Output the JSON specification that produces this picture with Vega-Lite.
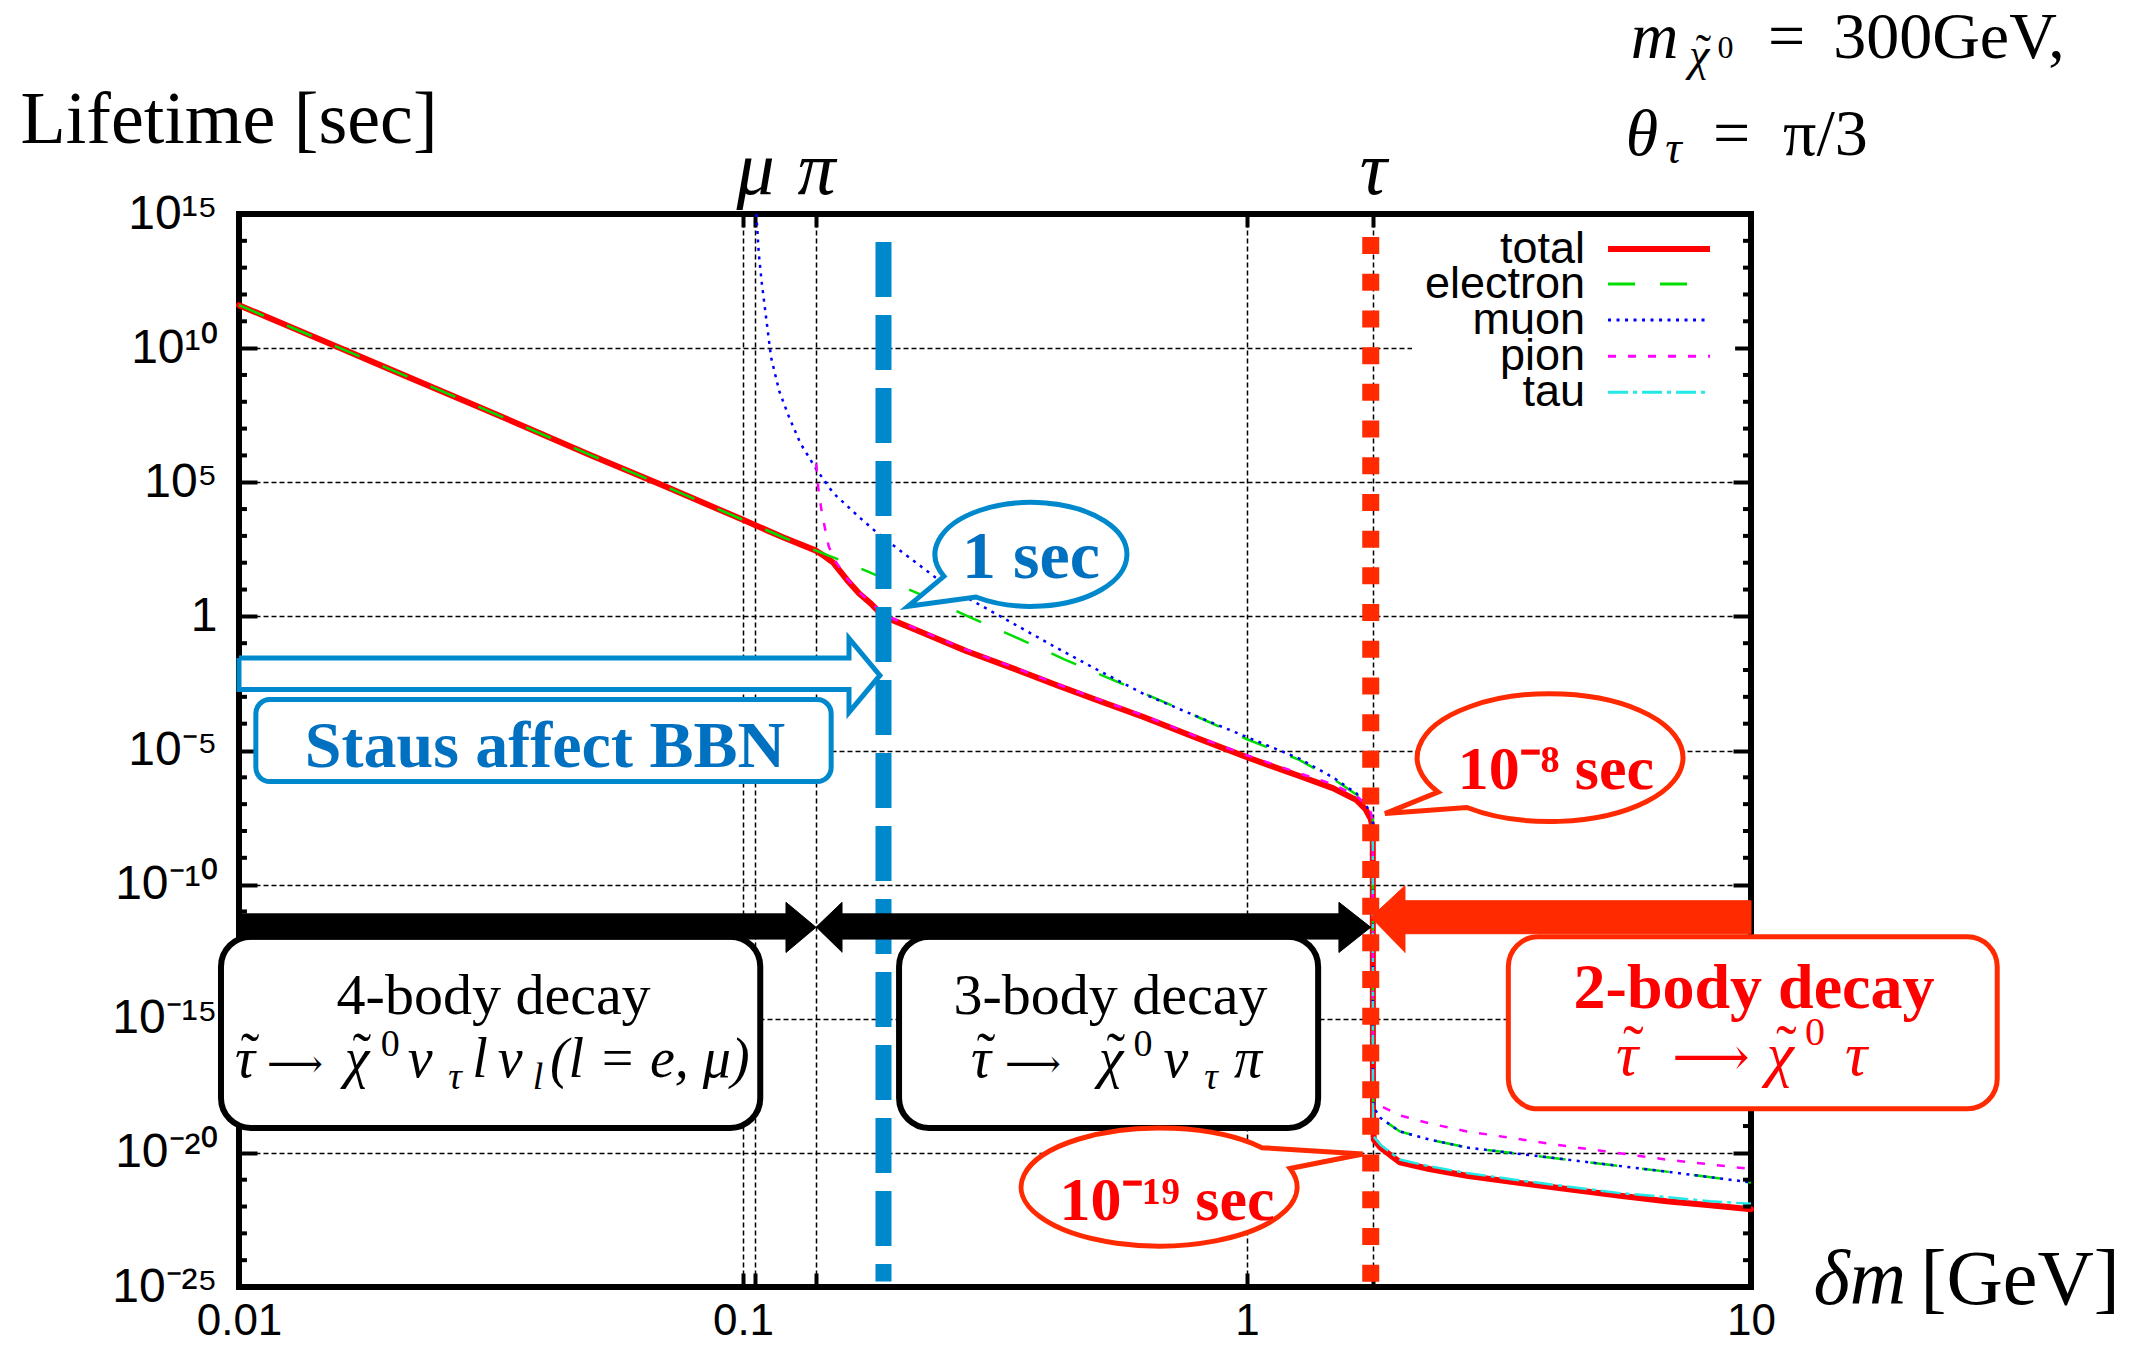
{
  "$schema": "https://vega.github.io/schema/vega-lite/v6.json",
  "description": "Stau lifetime versus mass difference, with partial lifetimes per decay channel and annotated decay regimes.",
  "width": 1512,
  "height": 1073,
  "autosize": {"type": "none"},
  "padding": {"left": 239, "top": 214, "right": 389, "bottom": 58},
  "background": "#ffffff",
  "config": {
    "view": {"stroke": "#000000", "strokeWidth": 6},
    "axis": {
      "domain": false,
      "tickColor": "#000000",
      "tickWidth": 4,
      "labelColor": "#000000",
      "labelFont": "Liberation Sans",
      "labelFontSize": 48,
      "gridColor": "#000000",
      "gridDash": [5, 3],
      "gridWidth": 1.5,
      "gridOpacity": 1,
      "labelOverlap": false,
      "labelFlush": false,
      "labelBound": false
    },
    "text": {"font": "Liberation Serif"}
  },
  "resolve": {"axis": {"x": "independent", "y": "independent"}},
  "datasets": {
    "minor": [
      {"y": 1e14}, {"y": 1e13}, {"y": 1e12}, {"y": 1e11},
      {"y": 1e9}, {"y": 1e8}, {"y": 1e7}, {"y": 1e6},
      {"y": 1e4}, {"y": 1e3}, {"y": 100}, {"y": 10},
      {"y": 0.1}, {"y": 0.01}, {"y": 1e-3}, {"y": 1e-4},
      {"y": 1e-6}, {"y": 1e-7}, {"y": 1e-8}, {"y": 1e-9},
      {"y": 1e-11}, {"y": 1e-12}, {"y": 1e-13}, {"y": 1e-14},
      {"y": 1e-16}, {"y": 1e-17}, {"y": 1e-18}, {"y": 1e-19},
      {"y": 1e-21}, {"y": 1e-22}, {"y": 1e-23}, {"y": 1e-24}
    ],
    "keys": [
      {"s": "total", "label": "total", "y": 4.94e13},
      {"s": "electron", "label": "electron", "y": 2.44e12},
      {"s": "muon", "label": "muon", "y": 1.11e11},
      {"s": "pion", "label": "pion", "y": 5.02e9},
      {"s": "tau", "label": "tau", "y": 2.28e8}
    ]
  },
  "layer": [
    {
      "data": {"values": [
        {"x": 0.01, "y": 3.98e11}, {"x": 0.015, "y": 1.58e10}, {"x": 0.02, "y": 1.58e9}, {"x": 0.03, "y": 6.31e7},
        {"x": 0.05, "y": 1.0e6}, {"x": 0.07, "y": 7.08e4}, {"x": 0.1, "y": 3.98e3}, {"x": 0.12, "y": 8.91e2},
        {"x": 0.1396, "y": 2.82e2}, {"x": 0.145, "y": 1.78e2}, {"x": 0.151, "y": 1.0e2}, {"x": 0.161, "y": 22.4},
        {"x": 0.17, "y": 7.08}, {"x": 0.18, "y": 2.82}, {"x": 0.19, "y": 1.0}, {"x": 0.22, "y": 0.316},
        {"x": 0.278, "y": 5.01e-2}, {"x": 0.35, "y": 1.0e-2}, {"x": 0.417, "y": 2.82e-3}, {"x": 0.5, "y": 7.94e-4},
        {"x": 0.625, "y": 1.74e-4}, {"x": 0.8, "y": 2.82e-5}, {"x": 1.0, "y": 5.62e-6}, {"x": 1.27, "y": 1.12e-6},
        {"x": 1.48, "y": 3.98e-7}, {"x": 1.65, "y": 1.41e-7}, {"x": 1.72, "y": 6.31e-8}, {"x": 1.76, "y": 2.82e-8},
        {"x": 1.7765, "y": 1.26e-8}, {"x": 1.7769, "y": 1e-12}, {"x": 1.7775, "y": 1e-17}, {"x": 1.779, "y": 1e-19},
        {"x": 1.785, "y": 3.16e-20}, {"x": 1.84, "y": 1.58e-20}, {"x": 2.01, "y": 4.47e-21}, {"x": 2.3, "y": 2.51e-21},
        {"x": 2.73, "y": 1.41e-21}, {"x": 3.4, "y": 7.94e-22}, {"x": 4.31, "y": 4.47e-22}, {"x": 5.5, "y": 2.51e-22},
        {"x": 6.8, "y": 1.58e-22}, {"x": 8.3, "y": 1.12e-22}, {"x": 10, "y": 7.94e-23}
      ]},
      "mark": {"type": "line", "color": "#ff0000", "strokeWidth": 6, "strokeJoin": "round", "strokeCap": "round"},
      "encoding": {
        "x": {
          "field": "x", "type": "quantitative", "scale": {"type": "log", "domain": [0.01, 10]},
          "axis": {
            "orient": "bottom",
            "values": [0.01, 0.1, 0.1057, 0.1396, 1, 1.777, 10],
            "labelExpr": "datum.value == 0.01 ? '0.01' : datum.value == 0.1 ? '0.1' : datum.value == 1 ? '1' : datum.value == 10 ? '10' : ''",
            "grid": true,
            "tickSize": -14,
            "labelPadding": 61,
            "labelFontSize": 44,
            "labelBaseline": "alphabetic",
            "title": null
          }
        },
        "y": {
          "field": "y", "type": "quantitative", "scale": {"type": "log", "domain": [1e-25, 1e15]},
          "axis": {
            "orient": "left",
            "values": [1e15, 1e10, 1e5, 1, 1e-5, 1e-10, 1e-15, 1e-20, 1e-25],
            "labelExpr": "datum.value > 1e14 ? '10¹⁵' : datum.value > 1e9 ? '10¹⁰' : datum.value > 1e4 ? '10⁵' : datum.value > 0.1 ? '1' : datum.value > 1e-6 ? '10⁻⁵' : datum.value > 1e-11 ? '10⁻¹⁰' : datum.value > 1e-16 ? '10⁻¹⁵' : datum.value > 1e-21 ? '10⁻²⁰' : '10⁻²⁵'",
            "grid": true,
            "tickSize": -18,
            "labelPadding": 40,
            "title": "Lifetime [sec]",
            "titleAngle": 0,
            "titleAlign": "left",
            "titleBaseline": "alphabetic",
            "titleX": -219,
            "titleY": -72,
            "titleFont": "Liberation Serif",
            "titleFontSize": 74,
            "titleFontWeight": "normal",
            "titleColor": "#000000"
          }
        }
      }
    },
    {
      "data": {"values": [
        {"s": "electron", "x": 0.01, "y": 3.98e11}, {"s": "electron", "x": 0.015, "y": 1.58e10}, {"s": "electron", "x": 0.02, "y": 1.58e9},
        {"s": "electron", "x": 0.03, "y": 6.31e7}, {"s": "electron", "x": 0.05, "y": 1.0e6}, {"s": "electron", "x": 0.07, "y": 7.08e4},
        {"s": "electron", "x": 0.1, "y": 3.98e3}, {"s": "electron", "x": 0.12, "y": 8.91e2}, {"s": "electron", "x": 0.1396, "y": 2.82e2},
        {"s": "electron", "x": 0.151, "y": 1.58e2}, {"s": "electron", "x": 0.178, "y": 44.7}, {"s": "electron", "x": 0.226, "y": 6.31},
        {"s": "electron", "x": 0.278, "y": 1.05}, {"s": "electron", "x": 0.34, "y": 0.2}, {"s": "electron", "x": 0.434, "y": 2.51e-2},
        {"s": "electron", "x": 0.555, "y": 3.55e-3}, {"s": "electron", "x": 0.767, "y": 2.51e-4}, {"s": "electron", "x": 1.0, "y": 2.63e-5},
        {"s": "electron", "x": 1.27, "y": 4.47e-6}, {"s": "electron", "x": 1.48, "y": 8.91e-7}, {"s": "electron", "x": 1.65, "y": 2.24e-7},
        {"s": "electron", "x": 1.73, "y": 7.08e-8}, {"s": "electron", "x": 1.7765, "y": 2.82e-8}, {"s": "electron", "x": 1.7769, "y": 1e-12},
        {"s": "electron", "x": 1.7775, "y": 3.16e-17}, {"s": "electron", "x": 1.779, "y": 1e-18}, {"s": "electron", "x": 1.79, "y": 4.47e-19},
        {"s": "electron", "x": 1.84, "y": 2.0e-19}, {"s": "electron", "x": 2.01, "y": 6.31e-20}, {"s": "electron", "x": 2.3, "y": 3.16e-20},
        {"s": "electron", "x": 2.73, "y": 1.58e-20}, {"s": "electron", "x": 4.31, "y": 5.62e-21}, {"s": "electron", "x": 6.8, "y": 2.0e-21},
        {"s": "electron", "x": 10, "y": 7.94e-22},

        {"s": "muon", "x": 0.1063, "y": 1e15}, {"s": "muon", "x": 0.1075, "y": 3.16e13}, {"s": "muon", "x": 0.109, "y": 2.51e12},
        {"s": "muon", "x": 0.1137, "y": 4.47e9}, {"s": "muon", "x": 0.118, "y": 2.51e8}, {"s": "muon", "x": 0.1233, "y": 2.82e7},
        {"s": "muon", "x": 0.13, "y": 2.82e6}, {"s": "muon", "x": 0.1396, "y": 3.16e5}, {"s": "muon", "x": 0.151, "y": 3.98e4},
        {"s": "muon", "x": 0.17, "y": 5.01e3}, {"s": "muon", "x": 0.185, "y": 1.26e3}, {"s": "muon", "x": 0.197, "y": 5.01e2},
        {"s": "muon", "x": 0.241, "y": 28.2}, {"s": "muon", "x": 0.278, "y": 5.01}, {"s": "muon", "x": 0.35, "y": 0.447},
        {"s": "muon", "x": 0.417, "y": 7.08e-2}, {"s": "muon", "x": 0.5, "y": 1.12e-2}, {"s": "muon", "x": 0.625, "y": 1.26e-3},
        {"s": "muon", "x": 0.8, "y": 1.78e-4}, {"s": "muon", "x": 1.0, "y": 3.16e-5}, {"s": "muon", "x": 1.27, "y": 5.01e-6},
        {"s": "muon", "x": 1.48, "y": 1.0e-6}, {"s": "muon", "x": 1.65, "y": 2.51e-7}, {"s": "muon", "x": 1.73, "y": 7.94e-8},
        {"s": "muon", "x": 1.7765, "y": 3.16e-8}, {"s": "muon", "x": 1.7769, "y": 1e-12}, {"s": "muon", "x": 1.7775, "y": 3.16e-17},
        {"s": "muon", "x": 1.779, "y": 1e-18}, {"s": "muon", "x": 1.79, "y": 4.47e-19}, {"s": "muon", "x": 1.84, "y": 2.0e-19},
        {"s": "muon", "x": 2.01, "y": 6.31e-20}, {"s": "muon", "x": 2.3, "y": 3.16e-20}, {"s": "muon", "x": 2.73, "y": 1.58e-20},
        {"s": "muon", "x": 4.31, "y": 5.62e-21}, {"s": "muon", "x": 6.8, "y": 2.0e-21}, {"s": "muon", "x": 10, "y": 7.94e-22},

        {"s": "pion", "x": 0.1397, "y": 5.01e5}, {"s": "pion", "x": 0.141, "y": 6.31e4}, {"s": "pion", "x": 0.143, "y": 1e4},
        {"s": "pion", "x": 0.145, "y": 2.51e3}, {"s": "pion", "x": 0.148, "y": 3.98e2}, {"s": "pion", "x": 0.152, "y": 1.26e2},
        {"s": "pion", "x": 0.161, "y": 25.1}, {"s": "pion", "x": 0.17, "y": 7.94}, {"s": "pion", "x": 0.18, "y": 3.16},
        {"s": "pion", "x": 0.19, "y": 1.17}, {"s": "pion", "x": 0.22, "y": 0.355}, {"s": "pion", "x": 0.278, "y": 5.62e-2},
        {"s": "pion", "x": 0.35, "y": 1.12e-2}, {"s": "pion", "x": 0.417, "y": 3.16e-3}, {"s": "pion", "x": 0.5, "y": 8.91e-4},
        {"s": "pion", "x": 0.625, "y": 2.0e-4}, {"s": "pion", "x": 0.8, "y": 3.16e-5}, {"s": "pion", "x": 1.0, "y": 6.61e-6},
        {"s": "pion", "x": 1.27, "y": 1.41e-6}, {"s": "pion", "x": 1.48, "y": 5.62e-7}, {"s": "pion", "x": 1.65, "y": 2.0e-7},
        {"s": "pion", "x": 1.72, "y": 1.0e-7}, {"s": "pion", "x": 1.76, "y": 5.01e-8}, {"s": "pion", "x": 1.7765, "y": 2.24e-8},
        {"s": "pion", "x": 1.7769, "y": 1e-12}, {"s": "pion", "x": 1.7775, "y": 3.16e-17}, {"s": "pion", "x": 1.779, "y": 2.51e-18},
        {"s": "pion", "x": 1.79, "y": 1.12e-18}, {"s": "pion", "x": 1.84, "y": 5.62e-19}, {"s": "pion", "x": 2.01, "y": 2.51e-19},
        {"s": "pion", "x": 2.3, "y": 1.26e-19}, {"s": "pion", "x": 2.73, "y": 6.31e-20}, {"s": "pion", "x": 4.31, "y": 1.78e-20},
        {"s": "pion", "x": 6.8, "y": 5.62e-21}, {"s": "pion", "x": 10, "y": 2.51e-21},

        {"s": "tau", "x": 1.777, "y": 1e-8}, {"s": "tau", "x": 1.7775, "y": 3.16e-17}, {"s": "tau", "x": 1.779, "y": 1.26e-19},
        {"s": "tau", "x": 1.785, "y": 3.98e-20}, {"s": "tau", "x": 1.84, "y": 2.0e-20}, {"s": "tau", "x": 2.01, "y": 5.62e-21},
        {"s": "tau", "x": 2.3, "y": 3.16e-21}, {"s": "tau", "x": 2.73, "y": 1.78e-21}, {"s": "tau", "x": 3.4, "y": 1.0e-21},
        {"s": "tau", "x": 4.31, "y": 5.62e-22}, {"s": "tau", "x": 5.5, "y": 3.16e-22}, {"s": "tau", "x": 6.8, "y": 2.24e-22},
        {"s": "tau", "x": 8.3, "y": 1.58e-22}, {"s": "tau", "x": 10, "y": 1.26e-22}
      ]},
      "mark": {"type": "line", "strokeWidth": 2.5, "strokeCap": "butt"},
      "encoding": {
        "x": {
          "field": "x", "type": "quantitative", "scale": {"type": "log", "domain": [0.01, 10]},
          "axis": {
            "orient": "top",
            "values": [0.1, 0.1057, 0.1396, 1, 1.777],
            "labelExpr": "datum.value == 0.1057 ? 'μ' : datum.value == 0.1396 ? 'π' : datum.value == 1.777 ? 'τ' : ''",
            "grid": false,
            "tickSize": -13,
            "labelPadding": 34,
            "labelBaseline": "alphabetic",
            "labelFont": "Liberation Serif",
            "labelFontStyle": "italic",
            "labelFontSize": 76,
            "title": null
          }
        },
        "y": {
          "field": "y", "type": "quantitative", "scale": {"type": "log", "domain": [1e-25, 1e15]},
          "axis": {
            "orient": "right",
            "values": [1e15, 1e10, 1e5, 1, 1e-5, 1e-10, 1e-15, 1e-20, 1e-25],
            "labels": false,
            "grid": false,
            "tickSize": -18,
            "title": null
          }
        },
        "color": {
          "field": "s", "type": "nominal",
          "scale": {"domain": ["total", "electron", "muon", "pion", "tau"], "range": ["#ff0000", "#00dd00", "#0000ff", "#ff00ff", "#22e8e8"]},
          "legend": null
        },
        "strokeDash": {
          "field": "s", "type": "nominal",
          "scale": {"domain": ["total", "electron", "muon", "pion", "tau"], "range": [[1, 0], [27, 25], [3, 5.5], [8, 12], [20, 5, 4, 5]]},
          "legend": null
        }
      }
    },
    {
      "data": {"name": "minor"},
      "mark": {"type": "rule", "color": "#000000", "strokeWidth": 4},
      "encoding": {
        "x": {"datum": 0.01, "type": "quantitative", "scale": {"type": "log", "domain": [0.01, 10]}, "axis": null},
        "x2": {"datum": 0.01037},
        "y": {"field": "y", "type": "quantitative", "scale": {"type": "log", "domain": [1e-25, 1e15]}, "axis": null}
      }
    },
    {
      "data": {"name": "minor"},
      "mark": {"type": "rule", "color": "#000000", "strokeWidth": 4},
      "encoding": {
        "x": {"datum": 9.641, "type": "quantitative", "scale": {"type": "log", "domain": [0.01, 10]}, "axis": null},
        "x2": {"datum": 10},
        "y": {"field": "y", "type": "quantitative", "scale": {"type": "log", "domain": [1e-25, 1e15]}, "axis": null}
      }
    },
    {
      "data": {"values": [{"x": 0.19, "y": 9.1e13, "y2": 1.6e-25}]},
      "mark": {"type": "rule", "color": "#0088cc", "strokeWidth": 16, "strokeDash": [55, 18], "strokeCap": "butt"},
      "encoding": {
        "x": {"field": "x", "type": "quantitative", "scale": {"type": "log", "domain": [0.01, 10]}, "axis": null},
        "y": {"field": "y", "type": "quantitative", "scale": {"type": "log", "domain": [1e-25, 1e15]}, "axis": null},
        "y2": {"field": "y2"}
      }
    },
    {
      "data": {"values": [{"x": 1.76, "y": 1.38e14, "y2": 1e-25}]},
      "mark": {"type": "rule", "color": "#ff2a00", "strokeWidth": 17, "strokeDash": [17, 19.7], "strokeCap": "butt"},
      "encoding": {
        "x": {"field": "x", "type": "quantitative", "scale": {"type": "log", "domain": [0.01, 10]}, "axis": null},
        "y": {"field": "y", "type": "quantitative", "scale": {"type": "log", "domain": [1e-25, 1e15]}, "axis": null},
        "y2": {"field": "y2"}
      }
    },
    {
      "data": {"values": [{"x": 2.125, "x2": 9.3, "y": 3.9e14, "y2": 4.9e7}]},
      "mark": {"type": "rect", "fill": "#ffffff", "strokeWidth": 0},
      "encoding": {
        "x": {"field": "x", "type": "quantitative", "scale": {"type": "log", "domain": [0.01, 10]}, "axis": null},
        "x2": {"field": "x2"},
        "y": {"field": "y", "type": "quantitative", "scale": {"type": "log", "domain": [1e-25, 1e15]}, "axis": null},
        "y2": {"field": "y2"}
      }
    },
    {
      "data": {"name": "keys"},
      "mark": {"type": "text", "font": "Liberation Sans", "fontSize": 45, "align": "right", "baseline": "middle", "color": "#000000"},
      "encoding": {
        "x": {"datum": 4.685, "type": "quantitative", "scale": {"type": "log", "domain": [0.01, 10]}, "axis": null},
        "y": {"field": "y", "type": "quantitative", "scale": {"type": "log", "domain": [1e-25, 1e15]}, "axis": null},
        "text": {"field": "label"}
      }
    },
    {
      "data": {"name": "keys"},
      "mark": {"type": "rule", "strokeCap": "butt"},
      "encoding": {
        "x": {"datum": 5.204, "type": "quantitative", "scale": {"type": "log", "domain": [0.01, 10]}, "axis": null},
        "x2": {"datum": 8.293},
        "y": {"field": "y", "type": "quantitative", "scale": {"type": "log", "domain": [1e-25, 1e15]}, "axis": null},
        "color": {
          "field": "s", "type": "nominal",
          "scale": {"domain": ["total", "electron", "muon", "pion", "tau"], "range": ["#ff0000", "#00dd00", "#0000ff", "#ff00ff", "#22e8e8"]},
          "legend": null
        },
        "strokeDash": {
          "field": "s", "type": "nominal",
          "scale": {"domain": ["total", "electron", "muon", "pion", "tau"], "range": [[1, 0], [27, 25], [3, 5.5], [8, 12], [20, 5, 4, 5]]},
          "legend": null
        },
        "strokeWidth": {"condition": {"test": "datum.s === 'total'", "value": 6}, "value": 3}
      }
    },
    {
      "data": {"values": [{"x": 0.0108, "x2": 0.1496, "y": 7.94e-4, "y2": 6.97e-7}]},
      "mark": {"type": "rect", "fill": "#ffffff", "stroke": "#0088cc", "strokeWidth": 5, "cornerRadius": 14},
      "encoding": {
        "x": {"field": "x", "type": "quantitative", "scale": {"type": "log", "domain": [0.01, 10]}, "axis": null},
        "x2": {"field": "x2"},
        "y": {"field": "y", "type": "quantitative", "scale": {"type": "log", "domain": [1e-25, 1e15]}, "axis": null},
        "y2": {"field": "y2"}
      }
    },
    {
      "data": {"values": [
        {"x": 0.00921, "x2": 0.1082, "y": 1.15e-12, "y2": 8.51e-20},
        {"x": 0.204, "x2": 1.384, "y": 1.15e-12, "y2": 8.51e-20}
      ]},
      "mark": {"type": "rect", "fill": "#ffffff", "stroke": "#000000", "strokeWidth": 6, "cornerRadius": 30},
      "encoding": {
        "x": {"field": "x", "type": "quantitative", "scale": {"type": "log", "domain": [0.01, 10]}, "axis": null},
        "x2": {"field": "x2"},
        "y": {"field": "y", "type": "quantitative", "scale": {"type": "log", "domain": [1e-25, 1e15]}, "axis": null},
        "y2": {"field": "y2"}
      }
    },
    {
      "data": {"values": [{"x": 3.3, "x2": 30.8, "y": 1.15e-12, "y2": 4.37e-19}]},
      "mark": {"type": "rect", "fill": "#ffffff", "stroke": "#ff2a00", "strokeWidth": 5, "cornerRadius": 30},
      "encoding": {
        "x": {"field": "x", "type": "quantitative", "scale": {"type": "log", "domain": [0.01, 10]}, "axis": null},
        "x2": {"field": "x2"},
        "y": {"field": "y", "type": "quantitative", "scale": {"type": "log", "domain": [1e-25, 1e15]}, "axis": null},
        "y2": {"field": "y2"}
      }
    },
    {
      "data": {"values": [
        {"o": 1, "x": 0.01, "y": 2.82e-2}, {"o": 2, "x": 0.1623, "y": 2.82e-2}, {"o": 3, "x": 0.1623, "y": 0.151},
        {"o": 4, "x": 0.1869, "y": 6.3e-3}, {"o": 5, "x": 0.1623, "y": 2.62e-4}, {"o": 6, "x": 0.1623, "y": 1.89e-3},
        {"o": 7, "x": 0.01, "y": 1.89e-3}, {"o": 8, "x": 0.01, "y": 2.82e-2}
      ]},
      "mark": {"type": "line", "fill": "#ffffff", "stroke": "#0088cc", "strokeWidth": 5, "strokeJoin": "miter"},
      "encoding": {
        "x": {"field": "x", "type": "quantitative", "scale": {"type": "log", "domain": [0.01, 10]}, "axis": null},
        "y": {"field": "y", "type": "quantitative", "scale": {"type": "log", "domain": [1e-25, 1e15]}, "axis": null},
        "order": {"field": "o", "type": "quantitative"}
      }
    },
    {
      "data": {"values": [
        {"id": "a", "o": 1, "x": 0.01, "y": 8.13e-12}, {"id": "a", "o": 2, "x": 0.1217, "y": 8.13e-12},
        {"id": "a", "o": 3, "x": 0.1217, "y": 2.19e-11}, {"id": "a", "o": 4, "x": 0.1396, "y": 2.57e-12},
        {"id": "a", "o": 5, "x": 0.1217, "y": 2.95e-13}, {"id": "a", "o": 6, "x": 0.1217, "y": 9.33e-13},
        {"id": "a", "o": 7, "x": 0.01, "y": 9.33e-13},
        {"id": "b", "o": 1, "x": 0.1396, "y": 2.57e-12}, {"id": "b", "o": 2, "x": 0.1572, "y": 2.19e-11},
        {"id": "b", "o": 3, "x": 0.1572, "y": 8.13e-12}, {"id": "b", "o": 4, "x": 1.522, "y": 8.13e-12},
        {"id": "b", "o": 5, "x": 1.522, "y": 2.19e-11}, {"id": "b", "o": 6, "x": 1.76, "y": 2.57e-12},
        {"id": "b", "o": 7, "x": 1.522, "y": 2.95e-13}, {"id": "b", "o": 8, "x": 1.522, "y": 9.33e-13},
        {"id": "b", "o": 9, "x": 0.1572, "y": 9.33e-13}, {"id": "b", "o": 10, "x": 0.1572, "y": 2.95e-13}
      ]},
      "mark": {"type": "line", "fill": "#000000", "stroke": "#000000", "strokeWidth": 1},
      "encoding": {
        "x": {"field": "x", "type": "quantitative", "scale": {"type": "log", "domain": [0.01, 10]}, "axis": null},
        "y": {"field": "y", "type": "quantitative", "scale": {"type": "log", "domain": [1e-25, 1e15]}, "axis": null},
        "detail": {"field": "id"},
        "order": {"field": "o", "type": "quantitative"}
      }
    },
    {
      "data": {"values": [
        {"o": 1, "x": 1.76, "y": 5.89e-12}, {"o": 2, "x": 2.058, "y": 9.12e-11}, {"o": 3, "x": 2.058, "y": 2.51e-11},
        {"o": 4, "x": 10, "y": 2.51e-11}, {"o": 5, "x": 10, "y": 1.48e-12}, {"o": 6, "x": 2.058, "y": 1.48e-12},
        {"o": 7, "x": 2.058, "y": 2.88e-13}
      ]},
      "mark": {"type": "line", "fill": "#ff2a00", "stroke": "#ff2a00", "strokeWidth": 1},
      "encoding": {
        "x": {"field": "x", "type": "quantitative", "scale": {"type": "log", "domain": [0.01, 10]}, "axis": null},
        "y": {"field": "y", "type": "quantitative", "scale": {"type": "log", "domain": [1e-25, 1e15]}, "axis": null},
        "order": {"field": "o", "type": "quantitative"}
      }
    },
    {
      "data": {"values": [{"x": 0.3727, "y": 205.6}]},
      "mark": {"type": "point", "shape": "M-0.669,0.169 A0.738,0.4 0 1,1 -0.423,0.328 L-0.946,0.4 Z", "size": 67600, "filled": true, "fill": "#ffffff", "stroke": "#0088cc", "strokeWidth": 5, "opacity": 1},
      "encoding": {
        "x": {"field": "x", "type": "quantitative", "scale": {"type": "log", "domain": [0.01, 10]}, "axis": null},
        "y": {"field": "y", "type": "quantitative", "scale": {"type": "log", "domain": [1e-25, 1e15]}, "axis": null}
      }
    },
    {
      "data": {"values": [{"x": 3.99, "y": 5.48e-6}]},
      "mark": {"type": "point", "shape": "M-0.658,0.203 A0.782,0.376 0 1,1 -0.488,0.294 L-0.97,0.33 Z", "size": 115600, "filled": true, "fill": "#ffffff", "stroke": "#ff2a00", "strokeWidth": 5, "opacity": 1},
      "encoding": {
        "x": {"field": "x", "type": "quantitative", "scale": {"type": "log", "domain": [0.01, 10]}, "axis": null},
        "y": {"field": "y", "type": "quantitative", "scale": {"type": "log", "domain": [1e-25, 1e15]}, "axis": null}
      }
    },
    {
      "data": {"values": [{"x": 0.669, "y": 5.37e-22}]},
      "mark": {"type": "point", "shape": "M0.624,-0.088 A0.657,0.281 0 1,1 0.49,-0.187 L0.971,-0.157 Z", "size": 176400, "filled": true, "fill": "#ffffff", "stroke": "#ff2a00", "strokeWidth": 5, "opacity": 1},
      "encoding": {
        "x": {"field": "x", "type": "quantitative", "scale": {"type": "log", "domain": [0.01, 10]}, "axis": null},
        "y": {"field": "y", "type": "quantitative", "scale": {"type": "log", "domain": [1e-25, 1e15]}, "axis": null}
      }
    },
    {
      "data": {"values": [{"x": 0.3727, "y": 26.2, "t": "1 sec"}]},
      "mark": {"type": "text", "fontSize": 68, "fontWeight": "bold", "color": "#0070c0", "align": "center", "baseline": "alphabetic"},
      "encoding": {
        "x": {"field": "x", "type": "quantitative", "scale": {"type": "log", "domain": [0.01, 10]}, "axis": null},
        "y": {"field": "y", "type": "quantitative", "scale": {"type": "log", "domain": [1e-25, 1e15]}, "axis": null},
        "text": {"field": "t"}
      }
    },
    {
      "data": {"values": [{"x": 0.04046, "y": 2.4e-6, "t": "Staus affect BBN"}]},
      "mark": {"type": "text", "fontSize": 66, "fontWeight": "bold", "color": "#0070c0", "align": "center", "baseline": "alphabetic"},
      "encoding": {
        "x": {"field": "x", "type": "quantitative", "scale": {"type": "log", "domain": [0.01, 10]}, "axis": null},
        "y": {"field": "y", "type": "quantitative", "scale": {"type": "log", "domain": [1e-25, 1e15]}, "axis": null},
        "text": {"field": "t"}
      }
    },
    {
      "data": {"values": [
        {"x": 4.1, "y": 3.82e-7, "t": "10\u207b\u2078 sec"},
        {"x": 0.694, "y": 3.16e-23, "t": "10\u207b\u00b9\u2079 sec"}
      ]},
      "mark": {"type": "text", "fontSize": 62, "fontWeight": "bold", "color": "#ff0000", "align": "center", "baseline": "alphabetic"},
      "encoding": {
        "x": {"field": "x", "type": "quantitative", "scale": {"type": "log", "domain": [0.01, 10]}, "axis": null},
        "y": {"field": "y", "type": "quantitative", "scale": {"type": "log", "domain": [1e-25, 1e15]}, "axis": null},
        "text": {"field": "t"}
      }
    },
    {
      "data": {"values": [
        {"x": 0.032, "y": 1.55e-15, "t": "4-body decay"},
        {"x": 0.536, "y": 1.55e-15, "t": "3-body decay"}
      ]},
      "mark": {"type": "text", "fontSize": 58, "color": "#000000", "align": "center", "baseline": "alphabetic"},
      "encoding": {
        "x": {"field": "x", "type": "quantitative", "scale": {"type": "log", "domain": [0.01, 10]}, "axis": null},
        "y": {"field": "y", "type": "quantitative", "scale": {"type": "log", "domain": [1e-25, 1e15]}, "axis": null},
        "text": {"field": "t"}
      }
    },
    {
      "data": {"values": [{"x": 10.14, "y": 2.57e-15, "t": "2-body decay"}]},
      "mark": {"type": "text", "fontSize": 64, "fontWeight": "bold", "color": "#ff0000", "align": "center", "baseline": "alphabetic"},
      "encoding": {
        "x": {"field": "x", "type": "quantitative", "scale": {"type": "log", "domain": [0.01, 10]}, "axis": null},
        "y": {"field": "y", "type": "quantitative", "scale": {"type": "log", "domain": [1e-25, 1e15]}, "axis": null},
        "text": {"field": "t"}
      }
    },
    {
      "data": {"values": [
        {"x": 0.01028, "y": 6.46e-18, "t": "\u03c4"},
        {"x": 0.01714, "y": 6.46e-18, "t": "\u03c7"}, {"x": 0.02287, "y": 6.46e-18, "t": "\u03bd"},
        {"x": 0.03007, "y": 6.46e-18, "t": "l"}, {"x": 0.03451, "y": 6.46e-18, "t": "\u03bd"},
        {"x": 0.06531, "y": 6.46e-18, "t": "(l = e, \u03bc)"},
        {"x": 0.2967, "y": 6.46e-18, "t": "\u03c4"},
        {"x": 0.5373, "y": 6.46e-18, "t": "\u03c7"}, {"x": 0.7231, "y": 6.46e-18, "t": "\u03bd"},
        {"x": 1.0046, "y": 6.46e-18, "t": "\u03c0"}
      ]},
      "mark": {"type": "text", "fontSize": 56, "fontStyle": "italic", "color": "#000000", "align": "center", "baseline": "alphabetic"},
      "encoding": {
        "x": {"field": "x", "type": "quantitative", "scale": {"type": "log", "domain": [0.01, 10]}, "axis": null},
        "y": {"field": "y", "type": "quantitative", "scale": {"type": "log", "domain": [1e-25, 1e15]}, "axis": null},
        "text": {"field": "t"}
      }
    },
    {
      "data": {"values": [
        {"x": 0.01291, "y": 6.46e-18, "t": "\u27f6"}, {"x": 0.3761, "y": 6.46e-18, "t": "\u27f6"}
      ]},
      "mark": {"type": "text", "font": "DejaVu Serif", "fontSize": 39, "color": "#000000", "align": "center", "baseline": "alphabetic"},
      "encoding": {
        "x": {"field": "x", "type": "quantitative", "scale": {"type": "log", "domain": [0.01, 10]}, "axis": null},
        "y": {"field": "y", "type": "quantitative", "scale": {"type": "log", "domain": [1e-25, 1e15]}, "axis": null},
        "text": {"field": "t"}
      }
    },
    {
      "data": {"values": [
        {"x": 0.01052, "y": 1.0e-17, "t": "\u02dc"}, {"x": 0.01752, "y": 1.0e-17, "t": "\u02dc"},
        {"x": 0.3035, "y": 1.0e-17, "t": "\u02dc"}, {"x": 0.5495, "y": 1.0e-17, "t": "\u02dc"}
      ]},
      "mark": {"type": "text", "fontSize": 56, "color": "#000000", "align": "center", "baseline": "alphabetic"},
      "encoding": {
        "x": {"field": "x", "type": "quantitative", "scale": {"type": "log", "domain": [0.01, 10]}, "axis": null},
        "y": {"field": "y", "type": "quantitative", "scale": {"type": "log", "domain": [1e-25, 1e15]}, "axis": null},
        "text": {"field": "t"}
      }
    },
    {
      "data": {"values": [
        {"x": 0.02684, "y": 2.45e-18, "t": "\u03c4"}, {"x": 0.03919, "y": 2.45e-18, "t": "l"},
        {"x": 0.8482, "y": 2.45e-18, "t": "\u03c4"}
      ]},
      "mark": {"type": "text", "fontSize": 38, "fontStyle": "italic", "color": "#000000", "align": "center", "baseline": "alphabetic"},
      "encoding": {
        "x": {"field": "x", "type": "quantitative", "scale": {"type": "log", "domain": [0.01, 10]}, "axis": null},
        "y": {"field": "y", "type": "quantitative", "scale": {"type": "log", "domain": [1e-25, 1e15]}, "axis": null},
        "text": {"field": "t"}
      }
    },
    {
      "data": {"values": [
        {"x": 0.01995, "y": 4.17e-17, "t": "0"}, {"x": 0.6219, "y": 4.17e-17, "t": "0"}
      ]},
      "mark": {"type": "text", "fontSize": 38, "color": "#000000", "align": "center", "baseline": "alphabetic"},
      "encoding": {
        "x": {"field": "x", "type": "quantitative", "scale": {"type": "log", "domain": [0.01, 10]}, "axis": null},
        "y": {"field": "y", "type": "quantitative", "scale": {"type": "log", "domain": [1e-25, 1e15]}, "axis": null},
        "text": {"field": "t"}
      }
    },
    {
      "data": {"values": [
        {"x": 5.675, "y": 8.13e-18, "t": "\u03c4"},
        {"x": 11.42, "y": 8.13e-18, "t": "\u03c7"}, {"x": 16.16, "y": 8.13e-18, "t": "\u03c4"}
      ]},
      "mark": {"type": "text", "fontSize": 62, "fontStyle": "italic", "color": "#ff0000", "align": "center", "baseline": "alphabetic"},
      "encoding": {
        "x": {"field": "x", "type": "quantitative", "scale": {"type": "log", "domain": [0.01, 10]}, "axis": null},
        "y": {"field": "y", "type": "quantitative", "scale": {"type": "log", "domain": [1e-25, 1e15]}, "axis": null},
        "text": {"field": "t"}
      }
    },
    {
      "data": {"values": [{"x": 8.33, "y": 8.13e-18, "t": "\u27f6"}]},
      "mark": {"type": "text", "font": "DejaVu Serif", "fontSize": 54, "color": "#ff0000", "align": "center", "baseline": "alphabetic"},
      "encoding": {
        "x": {"field": "x", "type": "quantitative", "scale": {"type": "log", "domain": [0.01, 10]}, "axis": null},
        "y": {"field": "y", "type": "quantitative", "scale": {"type": "log", "domain": [1e-25, 1e15]}, "axis": null},
        "text": {"field": "t"}
      }
    },
    {
      "data": {"values": [
        {"x": 5.84, "y": 1.45e-17, "t": "\u02dc"}, {"x": 11.75, "y": 1.45e-17, "t": "\u02dc"}
      ]},
      "mark": {"type": "text", "fontSize": 62, "color": "#ff0000", "align": "center", "baseline": "alphabetic"},
      "encoding": {
        "x": {"field": "x", "type": "quantitative", "scale": {"type": "log", "domain": [0.01, 10]}, "axis": null},
        "y": {"field": "y", "type": "quantitative", "scale": {"type": "log", "domain": [1e-25, 1e15]}, "axis": null},
        "text": {"field": "t"}
      }
    },
    {
      "data": {"values": [{"x": 13.39, "y": 1.07e-16, "t": "0"}]},
      "mark": {"type": "text", "fontSize": 40, "color": "#ff0000", "align": "center", "baseline": "alphabetic"},
      "encoding": {
        "x": {"field": "x", "type": "quantitative", "scale": {"type": "log", "domain": [0.01, 10]}, "axis": null},
        "y": {"field": "y", "type": "quantitative", "scale": {"type": "log", "domain": [1e-25, 1e15]}, "axis": null},
        "text": {"field": "t"}
      }
    },
    {
      "data": {"values": [{"x": 16.44, "y": 2.34e-26, "t": "\u03b4m"}]},
      "mark": {"type": "text", "fontSize": 78, "fontStyle": "italic", "color": "#000000", "align": "center", "baseline": "alphabetic"},
      "encoding": {
        "x": {"field": "x", "type": "quantitative", "scale": {"type": "log", "domain": [0.01, 10]}, "axis": null},
        "y": {"field": "y", "type": "quantitative", "scale": {"type": "log", "domain": [1e-25, 1e15]}, "axis": null},
        "text": {"field": "t"}
      }
    },
    {
      "data": {"values": [{"x": 34.2, "y": 2.34e-26, "t": "[GeV]"}]},
      "mark": {"type": "text", "fontSize": 78, "color": "#000000", "align": "center", "baseline": "alphabetic"},
      "encoding": {
        "x": {"field": "x", "type": "quantitative", "scale": {"type": "log", "domain": [0.01, 10]}, "axis": null},
        "y": {"field": "y", "type": "quantitative", "scale": {"type": "log", "domain": [1e-25, 1e15]}, "axis": null},
        "text": {"field": "t"}
      }
    },
    {
      "data": {"values": [
        {"x": 6.436, "y": 6.6e20, "t": "m"}, {"x": 6.077, "y": 1.58e17, "t": "\u03b8"}
      ]},
      "mark": {"type": "text", "fontSize": 66, "fontStyle": "italic", "color": "#000000", "align": "center", "baseline": "alphabetic"},
      "encoding": {
        "x": {"field": "x", "type": "quantitative", "scale": {"type": "log", "domain": [0.01, 10]}, "axis": null},
        "y": {"field": "y", "type": "quantitative", "scale": {"type": "log", "domain": [1e-25, 1e15]}, "axis": null},
        "text": {"field": "t"}
      }
    },
    {
      "data": {"values": [
        {"x": 11.76, "y": 6.6e20, "t": "="}, {"x": 24.71, "y": 6.6e20, "t": "300GeV,"},
        {"x": 9.149, "y": 1.58e17, "t": "="}, {"x": 14.05, "y": 1.58e17, "t": "\u03c0/3"}
      ]},
      "mark": {"type": "text", "fontSize": 66, "color": "#000000", "align": "center", "baseline": "alphabetic"},
      "encoding": {
        "x": {"field": "x", "type": "quantitative", "scale": {"type": "log", "domain": [0.01, 10]}, "axis": null},
        "y": {"field": "y", "type": "quantitative", "scale": {"type": "log", "domain": [1e-25, 1e15]}, "axis": null},
        "text": {"field": "t"}
      }
    },
    {
      "data": {"values": [
        {"x": 7.886, "y": 2.34e20, "t": "\u03c7"}, {"x": 7.018, "y": 7.94e16, "t": "\u03c4"}
      ]},
      "mark": {"type": "text", "fontSize": 46, "fontStyle": "italic", "color": "#000000", "align": "center", "baseline": "alphabetic"},
      "encoding": {
        "x": {"field": "x", "type": "quantitative", "scale": {"type": "log", "domain": [0.01, 10]}, "axis": null},
        "y": {"field": "y", "type": "quantitative", "scale": {"type": "log", "domain": [1e-25, 1e15]}, "axis": null},
        "text": {"field": "t"}
      }
    },
    {
      "data": {"values": [{"x": 8.05, "y": 3.3e20, "t": "\u02dc"}]},
      "mark": {"type": "text", "fontSize": 46, "color": "#000000", "align": "center", "baseline": "alphabetic"},
      "encoding": {
        "x": {"field": "x", "type": "quantitative", "scale": {"type": "log", "domain": [0.01, 10]}, "axis": null},
        "y": {"field": "y", "type": "quantitative", "scale": {"type": "log", "domain": [1e-25, 1e15]}, "axis": null},
        "text": {"field": "t"}
      }
    },
    {
      "data": {"values": [{"x": 8.9, "y": 6.6e20, "t": "0"}]},
      "mark": {"type": "text", "fontSize": 32, "color": "#000000", "align": "center", "baseline": "alphabetic"},
      "encoding": {
        "x": {"field": "x", "type": "quantitative", "scale": {"type": "log", "domain": [0.01, 10]}, "axis": null},
        "y": {"field": "y", "type": "quantitative", "scale": {"type": "log", "domain": [1e-25, 1e15]}, "axis": null},
        "text": {"field": "t"}
      }
    }
  ]
}
